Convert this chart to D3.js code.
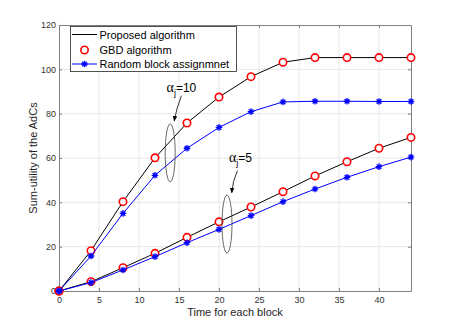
<!DOCTYPE html>
<html>
<head>
<meta charset="utf-8">
<script src="https://cdn.jsdelivr.net/npm/d3@7"></script>
<style>
  body { margin: 0; background: #fff; }
  text { font-family: "Liberation Sans", Arial, sans-serif; }
</style>
</head>
<body>
<script>
// data
var times = [0, 4, 8, 12, 16, 20, 24, 28, 32, 36, 40, 44];

var proposed10 = [0, 18.2, 40.3, 60.1, 75.8, 87.5, 96.7, 103.2, 105.3, 105.3, 105.3, 105.3];
var gbd10      = [0, 18.2, 40.3, 60.1, 75.8, 87.5, 96.7, 103.2, 105.3, 105.3, 105.3, 105.3];
var random10   = [0, 15.8, 35.0, 52.2, 64.4, 73.8, 80.9, 85.3, 85.6, 85.6, 85.5, 85.5];

var proposed5 = [0, 4.2, 10.5, 17.0, 24.2, 31.2, 37.9, 44.8, 51.9, 58.3, 64.4, 69.3];
var gbd5      = [0, 4.2, 10.5, 17.0, 24.2, 31.2, 37.9, 44.8, 51.9, 58.3, 64.4, 69.3];
var random5   = [0, 3.8, 9.5, 15.5, 21.8, 27.8, 34.0, 40.3, 46.0, 51.3, 56.1, 60.4];

var xTicks = [0, 5, 10, 15, 20, 25, 30, 35, 40];
var yTicks = [0, 20, 40, 60, 80, 100, 120];
var legendLabels = ["Proposed algorithm", "GBD algorithm", "Random block assignmnet"];

var W = 454, H = 327;
var margin = {left: 59, right: 43, top: 25, bottom: 36};

var svg = d3.select("body")
    .append("svg")
    .attr("width", W)
    .attr("height", H);

var x = d3.scaleLinear()
    .domain([0, 44])
    .range([margin.left, W - margin.right]);

var y = d3.scaleLinear()
    .domain([0, 120])
    .range([H - margin.bottom, margin.top]);

// grid
svg.append("g").selectAll("line.gx")
    .data(xTicks.slice(1))
    .enter().append("line")
    .attr("x1", d => x(d)).attr("x2", d => x(d))
    .attr("y1", y(0)).attr("y2", y(120))
    .style("stroke", "#e6e6e6").style("stroke-width", 1);

svg.append("g").selectAll("line.gy")
    .data(yTicks.slice(1, -1))
    .enter().append("line")
    .attr("x1", x(0)).attr("x2", x(44))
    .attr("y1", d => y(d)).attr("y2", d => y(d))
    .style("stroke", "#e6e6e6").style("stroke-width", 1);

// axes (box with inward ticks)
var axisColor = "#808080";
svg.append("g")
    .attr("transform", "translate(0," + y(0) + ")")
    .call(d3.axisBottom(x).tickValues(xTicks).tickSizeInner(-3).tickSizeOuter(0).tickPadding(6));
svg.append("g")
    .attr("transform", "translate(" + x(0) + ",0)")
    .call(d3.axisLeft(y).tickValues(yTicks).tickSizeInner(-3).tickSizeOuter(0).tickPadding(3));
svg.append("g")
    .attr("transform", "translate(0," + y(120) + ")")
    .call(d3.axisTop(x).tickValues(xTicks).tickSizeInner(-3).tickSizeOuter(0).tickFormat(""));
svg.append("g")
    .attr("transform", "translate(" + x(44) + ",0)")
    .call(d3.axisRight(y).tickValues(yTicks).tickSizeInner(-3).tickSizeOuter(0).tickFormat(""));

svg.selectAll(".domain, .tick line").style("stroke", axisColor);
svg.selectAll(".tick text")
    .style("fill", "#333")
    .style("font-size", "9px")
    .style("font-family", "Liberation Sans, Arial, sans-serif");

// axis labels
svg.append("text")
    .attr("x", (x(0) + x(44)) / 2)
    .attr("y", 316)
    .attr("text-anchor", "middle")
    .style("font-size", "11px")
    .style("fill", "#262626")
    .text("Time for each block");

svg.append("text")
    .attr("transform", "translate(37," + ((y(0) + y(120)) / 2) + ") rotate(-90)")
    .attr("text-anchor", "middle")
    .style("font-size", "11px")
    .style("fill", "#262626")
    .text("Sum-utility of the AdCs");

// lines
var line = d3.line()
    .x((d, i) => x(times[i]))
    .y(d => y(d));

function drawLine(vals, color) {
    svg.append("path")
        .datum(vals)
        .attr("d", line)
        .style("fill", "none")
        .style("stroke", color)
        .style("stroke-width", 1);
}

function star(g, cx, cy, r) {
    var p = "M" + (cx - r) + "," + cy + "L" + (cx + r) + "," + cy +
            "M" + cx + "," + (cy - r) + "L" + cx + "," + (cy + r) +
            "M" + (cx - r * 0.7) + "," + (cy - r * 0.7) + "L" + (cx + r * 0.7) + "," + (cy + r * 0.7) +
            "M" + (cx - r * 0.7) + "," + (cy + r * 0.7) + "L" + (cx + r * 0.7) + "," + (cy - r * 0.7);
    g.append("path").attr("d", p)
        .style("stroke", "#0000ff").style("stroke-width", 1.3).style("fill", "none");
}

function drawStars(vals) {
    var g = svg.append("g");
    vals.forEach((d, i) => star(g, x(times[i]), y(d), 3.3));
}

function drawCircles(vals) {
    svg.append("g").selectAll("circle")
        .data(vals)
        .enter().append("circle")
        .attr("cx", (d, i) => x(times[i]))
        .attr("cy", d => y(d))
        .attr("r", 3.7)
        .style("fill", "#fff")
        .style("stroke", "#ff0000")
        .style("stroke-width", 1.6);
}

drawLine(proposed10, "#000");
drawLine(proposed5, "#000");
drawCircles(gbd10);
drawCircles(gbd5);
drawLine(random10, "#0000ff");
drawLine(random5, "#0000ff");
drawStars(random10);
drawStars(random5);

// annotations
var defs = svg.append("defs");
defs.append("marker")
    .attr("id", "arr")
    .attr("viewBox", "0 0 10 10")
    .attr("refX", 9).attr("refY", 5)
    .attr("markerWidth", 7).attr("markerHeight", 7)
    .attr("orient", "auto")
    .append("path")
    .attr("d", "M0,1L10,5L0,9z")
    .style("fill", "#000");

function annotate(lbl, tx, ty, ax0, ay0, ax1, ay1, ex, ey) {
    var t = svg.append("text")
        .attr("x", x(tx)).attr("y", y(ty))
        .style("font-size", "12px")
        .style("fill", "#000");
    t.append("tspan").text("\u03b1").style("font-family", "Liberation Serif, serif").style("font-size", "14px");
    t.append("tspan").text("j").attr("dy", 4).style("font-size", "9px");
    t.append("tspan").text("=" + lbl).attr("dy", -4);

    var p0 = [x(ax0), y(ay0)], p1 = [x(ax1), y(ay1)];
    var c = [p0[0] - 5, (p0[1] + p1[1]) / 2];
    svg.append("path")
        .attr("d", "M" + p0 + "Q" + c + " " + p1)
        .style("fill", "none").style("stroke", "#000").style("stroke-width", 0.8)
        .attr("marker-end", "url(#arr)");

    svg.append("ellipse")
        .attr("cx", x(ex)).attr("cy", y(ey))
        .attr("rx", 5).attr("ry", 29)
        .style("fill", "none").style("stroke", "#444").style("stroke-width", 0.8);
}

annotate("10", 13.45, 90.0, 15.3, 88.1, 14.4, 76.7, 13.9, 62.3);
annotate("5", 21.25, 58.0, 22.3, 54.3, 21.6, 44.3, 21.0, 30.2);

// legend
var lg = svg.append("g");
lg.append("rect")
    .attr("x", 70.5).attr("y", 26.5)
    .attr("width", 166).attr("height", 45)
    .style("fill", "#fff").style("stroke", "#262626").style("stroke-width", 0.8);

var rowY = [34.5, 50, 64];
lg.append("line").attr("x1", 72).attr("x2", 97).attr("y1", rowY[0]).attr("y2", rowY[0])
    .style("stroke", "#000").style("stroke-width", 1);
lg.append("circle").attr("cx", 84.5).attr("cy", rowY[1]).attr("r", 3.7)
    .style("fill", "#fff").style("stroke", "#ff0000").style("stroke-width", 1.6);
lg.append("line").attr("x1", 72).attr("x2", 97).attr("y1", rowY[2]).attr("y2", rowY[2])
    .style("stroke", "#0000ff").style("stroke-width", 1);
star(lg, 84.5, rowY[2], 3.3);

lg.selectAll("text.lbl")
    .data(legendLabels)
    .enter().append("text")
    .attr("x", 99.5)
    .attr("y", (d, i) => rowY[i] + 4)
    .style("font-size", "11px")
    .style("fill", "#000")
    .text(d => d);
</script>
</body>
</html>
